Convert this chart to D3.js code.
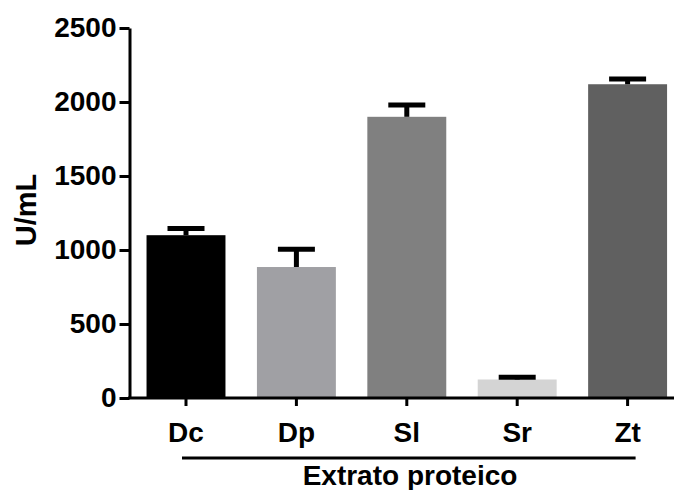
<!DOCTYPE html>
<html>
<head>
<meta charset="utf-8">
<script src="https://cdn.jsdelivr.net/npm/d3@7"></script>
<style>
  body { margin: 0; background: #fff; }
  svg { display: block; }
  text { font-family: "Liberation Sans", Arial, sans-serif; font-weight: bold; }
</style>
</head>
<body>
<svg width="674" height="490"></svg>
<script>
const categories = ["Dc", "Dp", "Sl", "Sr", "Zt"];
const means = [1100, 885, 1900, 125, 2120];
const errors = [45, 120, 80, 15, 35];
const barColors = ["#000000", "#a0a0a4", "#808080", "#d4d4d4", "#606060"];
const yTicks = [0, 500, 1000, 1500, 2000, 2500];

const svg = d3.select("svg");

const x = d3.scaleBand()
  .domain(categories)
  .range([130.8, 682.8])
  .paddingInner(0.285)
  .paddingOuter(0.1425);

const y = d3.scaleLinear().domain([0, 2500]).range([398, 28]);

// bars
svg.selectAll("rect.bar")
  .data(categories)
  .join("rect")
  .attr("class", "bar")
  .attr("x", d => x(d))
  .attr("width", x.bandwidth())
  .attr("y", (d, i) => y(means[i]))
  .attr("height", (d, i) => y(0) - y(means[i]))
  .attr("fill", (d, i) => barColors[i]);

// error bars (upper only)
const err = svg.append("g");
categories.forEach((c, i) => {
  const cx = x(c) + x.bandwidth() / 2;
  err.append("line")
    .attr("x1", cx).attr("x2", cx)
    .attr("y1", y(means[i])).attr("y2", y(means[i] + errors[i]))
    .attr("stroke", "#000").attr("stroke-width", 5);
  err.append("line")
    .attr("x1", cx - 18.5).attr("x2", cx + 18.5)
    .attr("y1", y(means[i] + errors[i])).attr("y2", y(means[i] + errors[i]))
    .attr("stroke", "#000").attr("stroke-width", 5);
});

// y axis
const yAxis = svg.append("g")
  .attr("transform", "translate(129.5,0)")
  .call(d3.axisLeft(y).tickValues(yTicks).tickFormat(d3.format("d"))
    .tickSize(10).tickSizeOuter(0).tickPadding(3));
yAxis.select(".domain").attr("stroke-width", 3);
yAxis.selectAll(".tick line").attr("stroke-width", 3);
yAxis.selectAll("text").style("font-size", "28px").attr("fill", "#000");

// x axis
const xAxis = svg.append("g")
  .attr("transform", "translate(0,398)")
  .call(d3.axisBottom(x).tickSize(8).tickSizeOuter(0).tickPadding(16));
xAxis.select(".domain").attr("stroke-width", 3).attr("d", "M128,0H682.8");
xAxis.selectAll(".tick line").attr("stroke-width", 3);
xAxis.selectAll("text").style("font-size", "28px").attr("fill", "#000");

// group bracket
svg.append("line")
  .attr("x1", x("Dc") + x.bandwidth() / 2 - 4)
  .attr("x2", x("Zt") + x.bandwidth() / 2 + 8)
  .attr("y1", 458).attr("y2", 458)
  .attr("stroke", "#000").attr("stroke-width", 3);

svg.append("text")
  .attr("x", 410).attr("y", 485)
  .attr("text-anchor", "middle")
  .style("font-size", "28px")
  .text("Extrato proteico");

svg.append("text")
  .attr("transform", "translate(36,210) rotate(-90)")
  .attr("text-anchor", "middle")
  .style("font-size", "29px")
  .text("U/mL");
</script>
</body>
</html>
